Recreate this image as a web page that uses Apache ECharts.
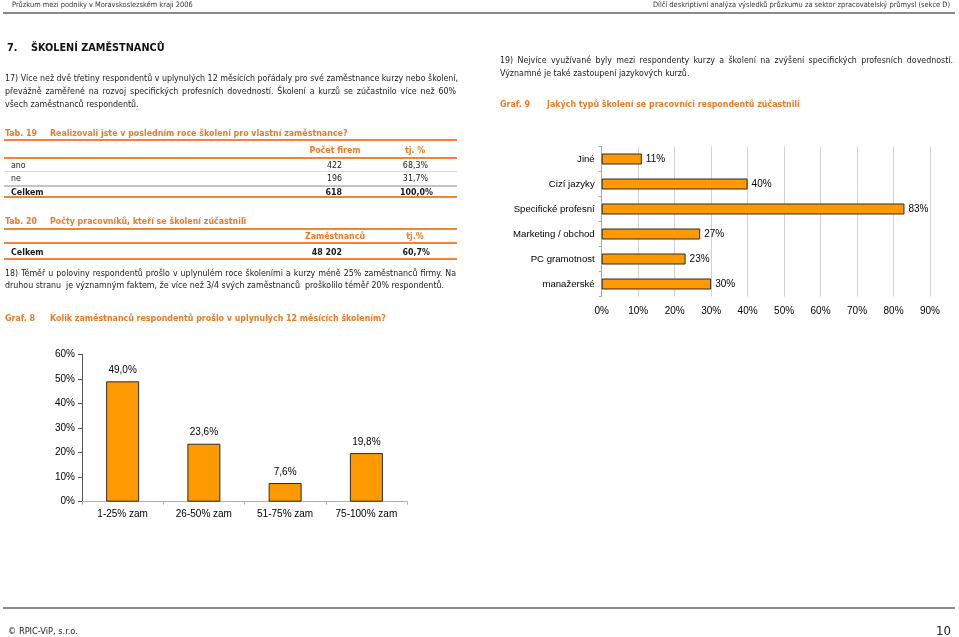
<!DOCTYPE html>
<html><head><meta charset="utf-8">
<script src="https://cdn.jsdelivr.net/npm/echarts@6/dist/echarts.min.js"></script>
<style>
html,body{margin:0;padding:0;background:#fff;}
#page{position:relative;width:959px;height:637px;overflow:hidden;background:#fff;}
#chart{position:absolute;left:0;top:0;width:959px;height:637px;}
.t{position:absolute;white-space:nowrap;font-family:"DejaVu Sans Condensed","DejaVu Sans",sans-serif;font-size:8.8px;line-height:12px;height:12px;color:#1a1a1a;}
.j{text-align:justify;text-align-last:justify;}
.o{color:#EB7A25;font-weight:bold;}
.b{font-weight:bold;}
.r{text-align:right;}
.c{text-align:center;}
.ln{position:absolute;}
</style></head>
<body><div id="page"><div id="chart"></div></div>
<script>
// ---- data ----
var trainShareCats = ['1-25% zam', '26-50% zam', '51-75% zam', '75-100% zam'];
var trainShareVals = [49.0, 23.6, 7.6, 19.8];
var trainShareTicks = ['0%', '10%', '20%', '30%', '40%', '50%', '60%'];

var trainTypeCats = ['Jiné', 'Cizí jazyky', 'Specifické profesní', 'Marketing / obchod', 'PC gramotnost', 'manažerské'];
var trainTypeVals = [11, 40, 83, 27, 23, 30];
var trainTypeTicks = ['0%', '10%', '20%', '30%', '40%', '50%', '60%', '70%', '80%', '90%'];

var tab19Head = ['', 'Počet firem', 'tj. %'];
var tab19Rows = [['ano', '422', '68,3%'], ['ne', '196', '31,7%']];
var tab19Total = ['Celkem', '618', '100,0%'];
var tab20Head = ['', 'Zaměstnanců', 'tj.%'];
var tab20Total = ['Celkem', '48 202', '60,7%'];

// ---- text layer ----
var page = document.getElementById('page');
function txt(s, x, cy, cls, extra) {
  var d = document.createElement('div');
  d.className = 't ' + (cls || '');
  d.textContent = s;
  d.style.left = x + 'px';
  d.style.top = (cy - 6) + 'px';
  if (extra) for (var k in extra) d.style[k] = extra[k];
  page.appendChild(d);
  return d;
}
function txtR(s, xr, cy, cls, extra) {
  var d = txt(s, 0, cy, cls, extra);
  d.style.left = 'auto';
  d.style.right = (959 - xr) + 'px';
  return d;
}
function txtC(s, xc, cy, cls, extra) {
  var d = txt(s, xc - 60, cy, (cls || '') + ' c', extra);
  d.style.width = '120px';
  return d;
}
function line(x1, x2, y, h, col) {
  var d = document.createElement('div');
  d.className = 'ln';
  d.style.left = x1 + 'px'; d.style.width = (x2 - x1) + 'px';
  d.style.top = y + 'px'; d.style.height = h + 'px'; d.style.background = col;
  page.appendChild(d);
}
function jline(s, x, w, cy, cls) {
  var d = txt(s, x, cy, 'j ' + (cls || ''));
  d.style.width = w + 'px';
  return d;
}

// header / footer
txt('Průzkum mezi podniky v Moravskoslezském kraji 2006', 12, 5, '', {fontSize: '7.4px', color: '#333'});
txtR('Dílčí deskriptivní analýza výsledků průzkumu za sektor zpracovatelský průmysl (sekce D)', 950, 5, '', {fontSize: '7.4px', color: '#333'});
line(3, 955, 12, 2, '#8a8a8a');
line(3, 955, 607, 2, '#8a8a8a');
txt('© RPIC-ViP, s.r.o.', 8, 631, '', {fontSize: '9.2px', color: '#222'});
txtR('10', 951, 631, '', {fontSize: '13px', color: '#222'});

// section heading
txt('7.', 7, 48, 'b', {fontSize: '10.8px', color: '#111'});
txt('ŠKOLENÍ ZAMĚSTNANCŮ', 31, 48, 'b', {fontSize: '10.8px', color: '#111'});

// paragraph 17
jline('17) Více než dvě třetiny respondentů v uplynulých 12 měsících pořádaly pro své zaměstnance kurzy nebo školení,', 5, 451, 78);
jline('převážně zaměřené na rozvoj specifických profesních dovedností. Školení a kurzů se zúčastnilo více než 60%', 5, 451, 91);
txt('všech zaměstnanců respondentů.', 5, 104);

// paragraph 19
jline('19) Nejvíce využívané byly mezi respondenty kurzy a školení na zvýšení specifických profesních dovedností.', 500, 453, 60);
txt('Významné je také zastoupení jazykových kurzů.', 500, 73);
txt('Graf. 9', 500, 104, 'o');
txt('Jakých typů školení se pracovníci respondentů zúčastnili', 547, 104, 'o');

// Tab 19
txt('Tab. 19', 5, 133, 'o');
txt('Realizovali jste v posledním roce školení pro vlastní zaměstnance?', 50, 133, 'o');
line(4, 457, 139, 2, '#EE8435');
txtC(tab19Head[1], 335, 150, 'o');
txtC(tab19Head[2], 415, 150, 'o');
line(4, 457, 157, 2, '#EE8435');
var rowY = [165, 178];
tab19Rows.forEach(function (r, i) {
  txt(r[0], 11, rowY[i]);
  txtR(r[1], 342, rowY[i]);
  txtR(r[2], 428, rowY[i]);
});
line(4, 457, 171, 1, '#d8d8d8');
line(4, 457, 185, 2, '#c4c4c4');
txt(tab19Total[0], 11, 192, 'b');
txtR(tab19Total[1], 342, 192, 'b');
txtR(tab19Total[2], 433, 192, 'b');
line(4, 457, 196, 2, '#EE8435');

// Tab 20
txt('Tab. 20', 5, 221, 'o');
txt('Počty pracovníků, kteří se školení zúčastnili', 50, 221, 'o');
line(4, 457, 228, 2, '#EE8435');
txtC(tab20Head[1], 335, 236, 'o');
txtC(tab20Head[2], 415, 236, 'o');
line(4, 457, 242, 2, '#EE8435');
txt(tab20Total[0], 11, 252, 'b');
txtR(tab20Total[1], 342, 252, 'b');
txtR(tab20Total[2], 430, 252, 'b');
line(4, 457, 258, 2, '#EE8435');

// paragraph 18
jline('18) Téměř u poloviny respondentů prošlo v uplynulém roce školeními a kurzy méně 25% zaměstnanců firmy. Na', 5, 451, 273);
txt('druhou stranu\u00a0 je významným faktem, že více než 3/4 svých zaměstnanců\u00a0 proškolilo téměř 20% respondentů.', 5, 285);

// Graf 8
txt('Graf. 8', 5, 318, 'o');
txt('Kolik zaměstnanců respondentů prošlo v uplynulých 12 měsících školením?', 50, 318, 'o');

// ---- charts ----
var chart = echarts.init(document.getElementById('chart'), null, {renderer: 'canvas'});
var AF = 'Liberation Sans, Arial, sans-serif';
var barStyle = {color: '#FF9900', borderColor: '#2b2b2b', borderWidth: 1};
chart.setOption({
  animation: false,
  backgroundColor: 'transparent',
  grid: [
    {left: 82, top: 354.3, width: 325, height: 147.4},
    {left: 601.7, top: 146.5, width: 328.3, height: 150}
  ],
  xAxis: [
    {gridIndex: 0, type: 'category', data: trainShareCats,
      axisLine: {show: true, lineStyle: {color: '#b0b0b0'}},
      axisTick: {show: true, length: 3, lineStyle: {color: '#b0b0b0'}},
      axisLabel: {color: '#000', fontSize: 10, fontFamily: AF, margin: 8}},
    {gridIndex: 1, type: 'value', min: 0, max: 90, interval: 10,
      axisLine: {show: false}, axisTick: {show: false},
      splitLine: {show: true, lineStyle: {color: '#d2d2d2'}},
      axisLabel: {color: '#000', fontSize: 10, fontFamily: AF, margin: 10,
        formatter: function (v) { return trainTypeTicks[Math.round(v / 10)]; }}}
  ],
  yAxis: [
    {gridIndex: 0, type: 'value', min: 0, max: 60, interval: 10,
      axisLine: {show: true, lineStyle: {color: '#555'}},
      axisTick: {show: true, length: 4, lineStyle: {color: '#555'}},
      splitLine: {show: false},
      axisLabel: {color: '#000', fontSize: 10, fontFamily: AF, margin: 7,
        formatter: function (v) { return trainShareTicks[Math.round(v / 10)]; }}},
    {gridIndex: 1, type: 'category', inverse: true, data: trainTypeCats,
      axisLine: {show: true, lineStyle: {color: '#a8a8a8'}},
      axisTick: {show: true, length: 3, lineStyle: {color: '#a8a8a8'}},
      axisLabel: {color: '#000', fontSize: 9.6, fontFamily: AF, margin: 7}}
  ],
  series: [
    {type: 'bar', xAxisIndex: 0, yAxisIndex: 0, data: trainShareVals, barWidth: 33,
      itemStyle: barStyle,
      label: {show: true, position: 'top', distance: 6, color: '#000', fontSize: 10, fontFamily: AF,
        formatter: function (p) { return p.value.toFixed(1).replace('.', ',') + '%'; }}},
    {type: 'bar', xAxisIndex: 1, yAxisIndex: 1, data: trainTypeVals, barWidth: 11,
      itemStyle: barStyle,
      label: {show: true, position: 'right', distance: 4, color: '#000', fontSize: 10, fontFamily: AF,
        formatter: function (p) { return p.value + '%'; }}}
  ]
});
</script>
</body></html>
